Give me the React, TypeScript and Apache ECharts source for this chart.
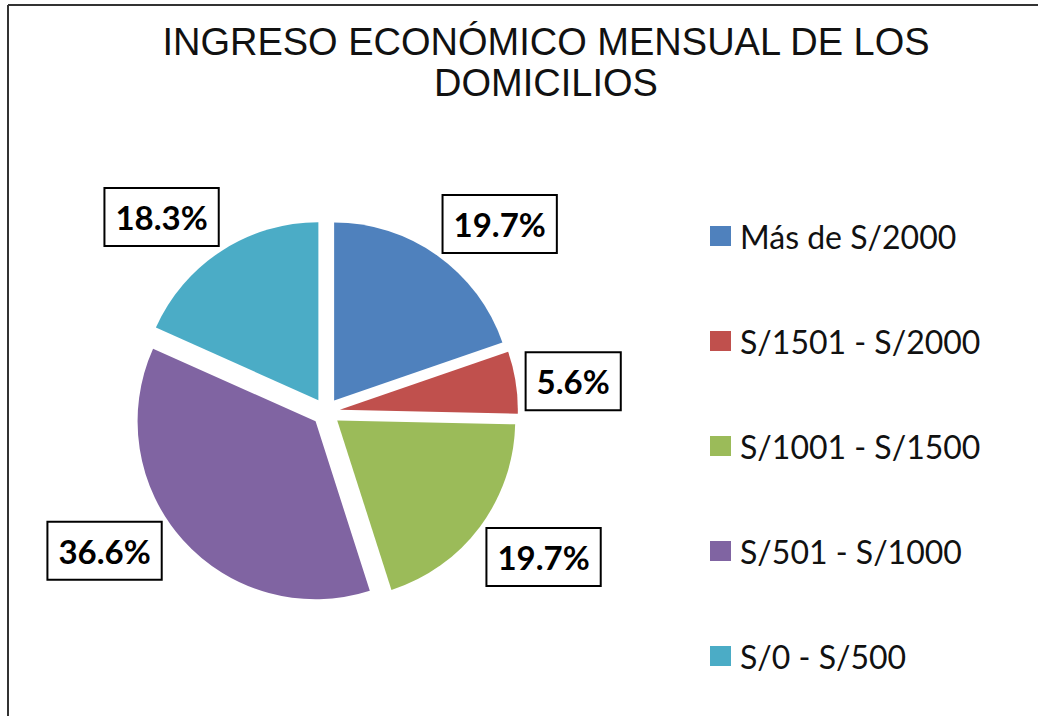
import React, { useEffect, useRef } from "react";
import * as echarts from "echarts";

const titleText = "INGRESO ECONÓMICO MENSUAL DE LOS\nDOMICILIOS";
const categories = ["Más de S/2000", "S/1501 - S/2000", "S/1001 - S/1500", "S/501 - S/1000", "S/0 - S/500"];
const counts = [14, 4, 14, 26, 13];
const colors = ["#4F81BD", "#C0504D", "#9BBB59", "#8064A2", "#4BACC6"];
// small per-label position nudges (pixels) to mimic the original best-fit placement
const labelNudge: [number, number][] = [[2, 2], [4, 0], [2, -2], [-17, -22], [0, 0]];

const CENTER: [number, number] = [326, 412];
const RADIUS = 178;
const OFFSET = 14;
const LABEL_GAP = 7;

export default function App() {
  const ref = useRef<HTMLDivElement>(null);
  useEffect(() => {
    if (!ref.current) return;
    const chart = echarts.init(ref.current, undefined, { renderer: "svg" });
    const total = counts.reduce((a, b) => a + b, 0);
    const cum: number[] = [];
    let acc = 0;
    counts.forEach((v) => {
      cum.push(acc);
      acc += v;
    });

    // Percentage labels placed just outside each exploded slice, anchored at the
    // box corner facing the slice (as the original spreadsheet chart does).
    const labelGraphics = counts.map((v, i) => {
      const t = (2 * Math.PI * (cum[i] + v / 2)) / total;
      const dx = Math.sin(t);
      const dy = -Math.cos(t);
      const r = RADIUS + OFFSET + LABEL_GAP;
      const align = dx > 0.2 ? "left" : dx < -0.2 ? "right" : "center";
      const verticalAlign = dy < -0.3 ? "bottom" : dy > 0.3 ? "top" : "middle";
      return {
        type: "text",
        x: CENTER[0] + r * dx + labelNudge[i][0],
        y: CENTER[1] + r * dy + labelNudge[i][1],
        z: 10,
        style: {
          text: ((v / total) * 100).toFixed(1) + "%",
          fontFamily: "Lato",
          fontWeight: "bold",
          fontSize: 33,
          lineHeight: 38,
          fill: "#000",
          backgroundColor: "#fff",
          borderColor: "#000",
          borderWidth: 2,
          padding: [9, 10],
          align,
          verticalAlign,
        },
      };
    });

    chart.setOption({
      animation: false,
      backgroundColor: "#ffffff",
      title: {
        text: titleText,
        left: 541,
        textAlign: "center",
        top: 16,
        textStyle: {
          fontFamily: "Liberation Sans",
          fontSize: 38,
          fontWeight: "normal",
          color: "#111",
          lineHeight: 41,
        },
      },
      legend: {
        orient: "vertical",
        left: 705,
        top: 211,
        icon: "rect",
        itemWidth: 21,
        itemHeight: 20,
        itemGap: 65,
        selectedMode: false,
        data: categories,
        textStyle: {
          fontFamily: "Lato",
          fontSize: 32,
          color: "#111",
          lineHeight: 40,
          padding: [0, 0, 0, 4],
        },
      },
      graphic: [
        { type: "line", shape: { x1: 8, y1: 5, x2: 1038, y2: 5 }, style: { stroke: "#333", lineWidth: 2 } },
        { type: "line", shape: { x1: 8, y1: 5, x2: 8, y2: 716 }, style: { stroke: "#333", lineWidth: 2 } },
        ...labelGraphics,
      ],
      series: [
        {
          type: "pie",
          center: CENTER,
          radius: RADIUS,
          startAngle: 90,
          clockwise: true,
          selectedMode: "multiple",
          selectedOffset: OFFSET,
          itemStyle: { borderWidth: 0 },
          select: { itemStyle: { borderWidth: 0 } },
          emphasis: { disabled: true },
          label: { show: false },
          labelLine: { show: false },
          data: categories.map((name, i) => ({
            name,
            value: counts[i],
            selected: true,
            itemStyle: { color: colors[i] },
          })),
        },
      ],
    });
    return () => chart.dispose();
  }, []);
  return (
    <div
      ref={ref}
      style={{ position: "fixed", left: 0, top: 0, width: 1038, height: 716 }}
    />
  );
}
